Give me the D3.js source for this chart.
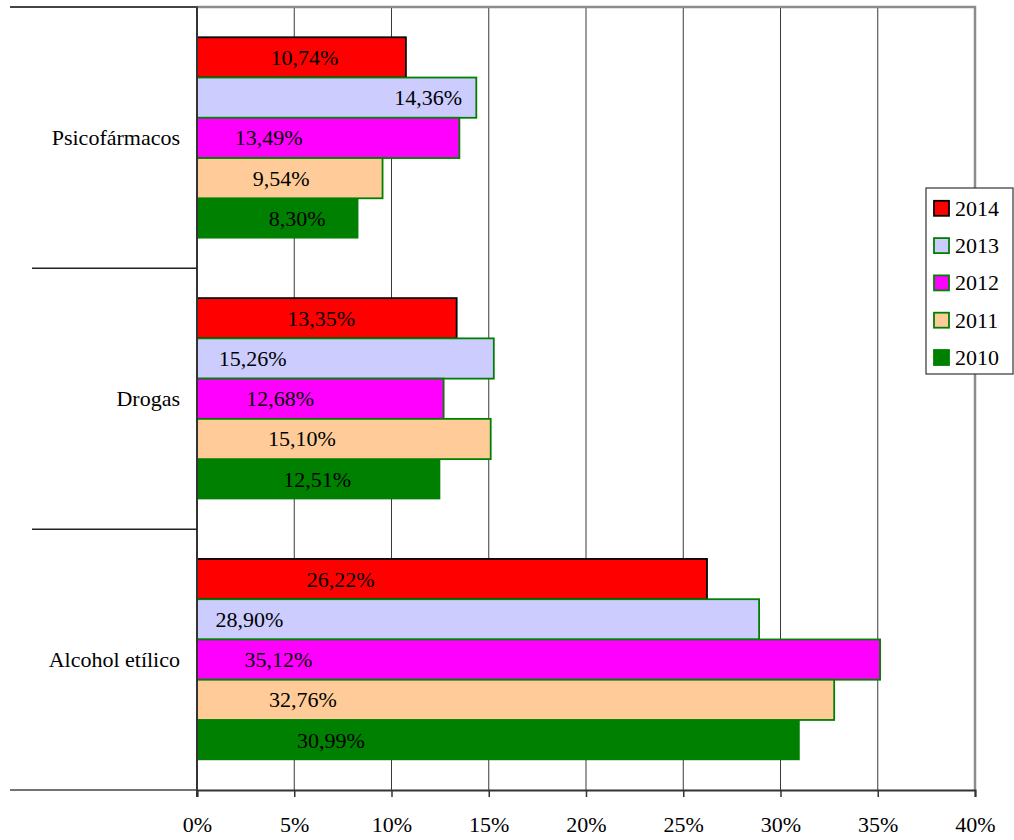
<!DOCTYPE html>
<html>
<head>
<meta charset="utf-8">
<script src="https://cdn.jsdelivr.net/npm/d3@7"></script>
<style>
  body { margin: 0; background: #fff; }
  svg text { fill: #000; }
</style>
</head>
<body>
<svg id="chart" width="1014" height="840"></svg>
<script>
'use strict'

// ------ data ------
const categories = ['Psicofármacos', 'Drogas', 'Alcohol etílico']
const years = ['2014', '2013', '2012', '2011', '2010']

const v2014 = [10.74, 13.35, 26.22]
const v2013 = [14.36, 15.26, 28.90]
const v2012 = [13.49, 12.68, 35.12]
const v2011 = [9.54, 15.10, 32.76]
const v2010 = [8.30, 12.51, 30.99]

// where each value label sits along the bar, in % units (placed by hand in the original)
const labelAt2014 = [5.52, 6.39, 7.38]
const labelAt2013 = [11.88, 2.86, 2.70]
const labelAt2012 = [3.68, 4.28, 4.18]
const labelAt2011 = [4.33, 5.39, 5.45]
const labelAt2010 = [5.15, 6.18, 6.88]

const xTicks = [0, 5, 10, 15, 20, 25, 30, 35, 40]

const fills = ['#FF0000', '#CCCCFF', '#FF00FF', '#FFCC99', '#008000']
const strokes = ['#000000', '#008000', '#008000', '#008000', 'none']

const seriesValues = [v2014, v2013, v2012, v2011, v2010]
const seriesLabels = [labelAt2014, labelAt2013, labelAt2012, labelAt2011, labelAt2010]

const fmt = d => d.toFixed(2).replace('.', ',') + '%'
const serif = "'Liberation Serif', 'Times New Roman', Tinos, 'DejaVu Serif', serif"

// ------ layout ------
const plotLeft = 197
const plotRight = 975
const plotTop = 7.5
const plotBottom = 790

const svg = d3.select('#chart')
  .attr('font-family', serif)

const x = d3.scaleLinear().domain([0, 40]).range([plotLeft, plotRight])
const y0 = d3.scaleBand().domain(categories).range([plotTop, plotBottom])
const y1 = d3.scaleBand().domain(years).range([0, y0.bandwidth()]).paddingOuter(0.74)

// ------ grid lines ------
svg.append('g')
  .selectAll('line')
  .data(xTicks.slice(1, -1))
  .join('line')
  .attr('x1', d => x(d)).attr('x2', d => x(d))
  .attr('y1', plotTop).attr('y2', plotBottom)
  .attr('stroke', '#3a3a3a')
  .attr('stroke-width', 1)

// plot border (grey top and right)
svg.append('path')
  .attr('d', `M${plotLeft},${plotTop - 0.5}H${plotRight}V${plotBottom}`)
  .attr('fill', 'none')
  .attr('stroke', '#8c8c8c')
  .attr('stroke-width', 2.5)

// ------ bars ------
const rows = []
categories.forEach((c, ci) => {
  years.forEach((yr, si) => {
    rows.push({ cat: c, year: yr, si: si, value: seriesValues[si][ci], labelAt: seriesLabels[si][ci] })
  })
})

const groups = svg.append('g')
  .selectAll('g')
  .data(categories)
  .join('g')
  .attr('transform', d => `translate(0,${y0(d)})`)

groups.selectAll('rect')
  .data(c => rows.filter(r => r.cat === c))
  .join('rect')
  .attr('x', x(0))
  .attr('y', d => y1(d.year))
  .attr('width', d => x(d.value) - x(0))
  .attr('height', y1.bandwidth())
  .attr('fill', d => fills[d.si])
  .attr('stroke', d => strokes[d.si])
  .attr('stroke-width', 1.8)

groups.selectAll('text')
  .data(c => rows.filter(r => r.cat === c))
  .join('text')
  .attr('x', d => x(d.labelAt))
  .attr('y', d => y1(d.year) + y1.bandwidth() / 2)
  .attr('dy', '0.34em')
  .attr('text-anchor', 'middle')
  .attr('font-size', 22)
  .text(d => fmt(d.value))

// ------ category axis ------
svg.append('line')
  .attr('x1', plotLeft).attr('x2', plotLeft)
  .attr('y1', plotTop - 1).attr('y2', plotBottom + 7)
  .attr('stroke', '#333')
  .attr('stroke-width', 2)

// separators between categories
svg.append('g')
  .selectAll('line')
  .data(categories.slice(1))
  .join('line')
  .attr('x1', 32).attr('x2', plotLeft)
  .attr('y1', d => y0(d)).attr('y2', d => y0(d))
  .attr('stroke', '#222')
  .attr('stroke-width', 1.5)

svg.append('line')
  .attr('x1', 10).attr('x2', plotLeft)
  .attr('y1', plotTop - 0.5).attr('y2', plotTop - 0.5)
  .attr('stroke', '#444')
  .attr('stroke-width', 2)

svg.append('line')
  .attr('x1', 10).attr('x2', plotLeft)
  .attr('y1', plotBottom).attr('y2', plotBottom)
  .attr('stroke', '#444')
  .attr('stroke-width', 1.5)

svg.append('g')
  .selectAll('text')
  .data(categories)
  .join('text')
  .attr('x', 180)
  .attr('y', d => y0(d) + y0.bandwidth() / 2)
  .attr('dy', '0.34em')
  .attr('text-anchor', 'end')
  .attr('font-size', 22)
  .text(d => d)

// ------ value axis ------
const xAxis = svg.append('g')
  .attr('transform', `translate(0,${plotBottom})`)
  .call(d3.axisBottom(x)
    .tickValues(xTicks)
    .tickSize(7)
    .tickPadding(19)
    .tickFormat(d => d + '%'))
  .attr('font-family', serif)
  .attr('font-size', 22)

xAxis.select('.domain').attr('stroke', '#333').attr('stroke-width', 2)
xAxis.selectAll('.tick line').attr('stroke', '#333').attr('stroke-width', 1.5)
xAxis.selectAll('.tick text').attr('fill', '#000')

// ------ legend ------
const legend = svg.append('g').attr('transform', 'translate(926,188)')

legend.append('rect')
  .attr('width', 87)
  .attr('height', 186)
  .attr('fill', '#fff')
  .attr('stroke', '#333')
  .attr('stroke-width', 1.2)

const item = legend.selectAll('g')
  .data(years)
  .join('g')
  .attr('transform', (d, i) => `translate(0,${20.3 + i * 37.3})`)

item.append('rect')
  .attr('x', 8)
  .attr('y', -7.5)
  .attr('width', 15)
  .attr('height', 15)
  .attr('fill', (d, i) => fills[i])
  .attr('stroke', (d, i) => strokes[i] === 'none' ? fills[i] : strokes[i])
  .attr('stroke-width', 1.8)

item.append('text')
  .attr('x', 29)
  .attr('dy', '0.34em')
  .attr('font-size', 22)
  .text(d => d)
</script>
</body>
</html>
